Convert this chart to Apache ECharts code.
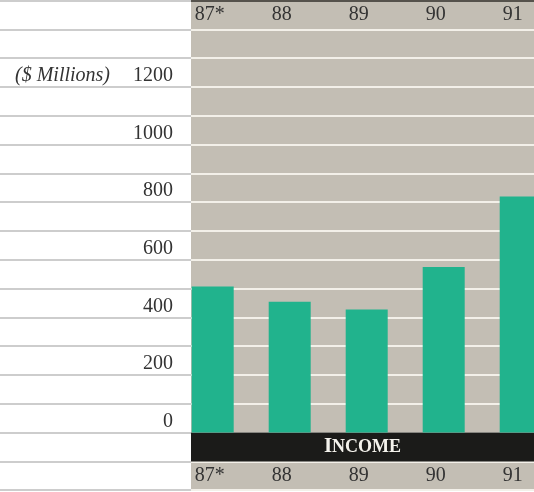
<!DOCTYPE html>
<html>
<head>
<meta charset="utf-8">
<title>Income</title>
<script src="https://cdn.jsdelivr.net/npm/echarts@6/dist/echarts.min.js"></script>
<style>
  html, body { margin: 0; padding: 0; background: #ffffff; }
  #chart { width: 534px; height: 492px; }
</style>
</head>
<body>
<div id="chart"></div>
<script>
// Data
const years = ['87*', '88', '89', '90', '91'];
const income = [507, 454, 427, 575, 820];
const yTickLabels = [0, 200, 400, 600, 800, 1000, 1200];
const unitLabel = '($ Millions)';
const bandTitle = 'INCOME';

// Value scale shared by every grid: the header band sits above 1400,
// the title band and the lower year band sit below 0.
const Y_MIN = -200, Y_MAX = 1500, Y_STEP = 100;

const SERIF = '"Liberation Serif", "Times New Roman", serif';
const TEXT = '#333333';
const PANEL = '#c3beb4';
const TOP = 0.5, HEIGHT = 489.7;
// five category slots of 77px; the last one runs past the right edge
const SLOT_SPAN = 385;

function valueAxis(gridIndex, extra) {
  return Object.assign({
    gridIndex: gridIndex, type: 'value',
    min: Y_MIN, max: Y_MAX, interval: Y_STEP,
    axisLine: { show: false }, axisTick: { show: false },
    axisLabel: { show: false }, splitLine: { show: false }
  }, extra || {});
}

function yearAxis(position, margin) {
  return {
    gridIndex: 3, type: 'category', data: years, position: position,
    axisLine: { show: false }, axisTick: { show: false }, splitLine: { show: false },
    axisLabel: {
      inside: true, margin: margin, interval: 0,
      align: 'left', verticalAlign: 'middle',
      fontFamily: SERIF, fontSize: 20, color: TEXT
    }
  };
}

const chart = echarts.init(document.getElementById('chart'), null, { renderer: 'canvas' });

chart.setOption({
  backgroundColor: '#ffffff',
  animation: false,
  grid: [
    // white margin with grey rules and the value labels
    { left: 0, width: 191, top: TOP, height: HEIGHT, outerBoundsMode: 'none' },
    // shaded panel with white rules
    { left: 191, right: 0, top: TOP, height: HEIGHT, show: true,
      backgroundColor: PANEL, borderWidth: 0, outerBoundsMode: 'none' },
    // bars
    { left: 174.2, width: SLOT_SPAN, top: TOP, height: HEIGHT, outerBoundsMode: 'none' },
    // year labels, left-aligned on the bars
    { left: 156.2, width: SLOT_SPAN, top: TOP, height: HEIGHT, outerBoundsMode: 'none' }
  ],
  xAxis: [
    { gridIndex: 0, type: 'value', min: 0, max: 1, show: false },
    { gridIndex: 1, type: 'value', min: 0, max: 1, show: false },
    { gridIndex: 2, type: 'category', data: years, show: false },
    yearAxis('top', 14.5),
    yearAxis('bottom', 14)
  ],
  yAxis: [
    valueAxis(0, {
      splitLine: { show: true, lineStyle: { color: '#bdbdbd', width: 1.5 } },
      axisLabel: {
        show: true, inside: true, margin: 173,
        align: 'right', verticalAlign: 'bottom',
        lineHeight: 20, padding: [0, 0, 1, 0],
        fontFamily: SERIF, fontSize: 20, color: TEXT,
        formatter: function (v) {
          if (!yTickLabels.includes(v)) return '';
          if (v === yTickLabels[yTickLabels.length - 1]) {
            return '{u|' + unitLabel + '}' + v;
          }
          return String(v);
        },
        rich: {
          u: { fontFamily: SERIF, fontSize: 20, fontStyle: 'italic', color: TEXT,
               lineHeight: 20, padding: [0, 23, 0, 0] }
        }
      }
    }),
    valueAxis(1, {
      splitLine: { show: true, lineStyle: { color: '#f3f0e9', width: 2 } }
    }),
    valueAxis(2),
    valueAxis(3)
  ],
  series: [
    {
      type: 'bar',
      xAxisIndex: 2, yAxisIndex: 2,
      data: income,
      barWidth: 42,
      itemStyle: { color: '#21b38d' }
    },
    {
      // carries the title band and the top edge rule of the panel
      type: 'line',
      xAxisIndex: 1, yAxisIndex: 1,
      data: [],
      silent: true,
      markArea: {
        silent: true,
        itemStyle: { color: '#1b1b19' },
        label: {
          show: true, position: 'inside',
          formatter: function () {
            return '{a|' + bandTitle.charAt(0) + '}{b|' + bandTitle.slice(1) + '}';
          },
          rich: {
            a: { fontFamily: SERIF, fontWeight: 'bold', fontSize: 21, color: '#f4f2ec' },
            b: { fontFamily: SERIF, fontWeight: 'bold', fontSize: 18, color: '#f4f2ec' }
          }
        },
        data: [[{ yAxis: 0 }, { yAxis: -100 }]]
      },
      markLine: {
        silent: true, symbol: 'none',
        label: { show: false },
        lineStyle: { color: '#55524c', width: 2, type: 'solid' },
        data: [{ yAxis: Y_MAX }]
      }
    }
  ]
});
</script>
</body>
</html>
